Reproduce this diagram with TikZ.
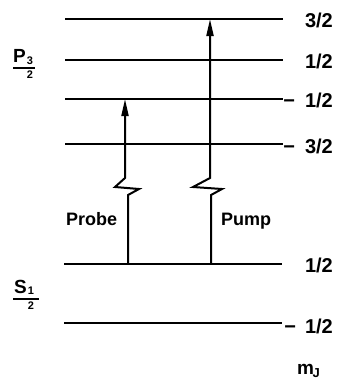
\documentclass[tikz,border=0pt]{standalone}
\usepackage{fontspec}
\setmainfont{Liberation Sans}
\usetikzlibrary{arrows.meta}
\begin{document}
\begin{tikzpicture}[x=1pt,y=-1pt,
  level/.style={line width=2pt},
  beam/.style={line width=2pt, line join=miter, -{Triangle[length=17pt,width=7pt]}},
  mjlab/.style={anchor=base east, font=\fontsize{20}{20}\selectfont\bfseries, inner sep=0pt},
  lab/.style={anchor=base west, font=\fontsize{18}{18}\selectfont\bfseries, inner sep=0pt},
  term/.style={anchor=base west, font=\fontsize{19}{19}\selectfont\bfseries, inner sep=0pt},
  subn/.style={anchor=base, font=\fontsize{11}{11}\selectfont\bfseries, inner sep=0pt},
  bar/.style={line width=1.5pt}]
\useasboundingbox (0,0) rectangle (340,383);
% P_{3/2} levels
\coordinate (p3l) at (65,19);  \coordinate (p3r) at (283,19);
\coordinate (p1l) at (65,60);  \coordinate (p1r) at (283,60);
\coordinate (pm1l) at (65,99); \coordinate (pm1r) at (283,99);
\coordinate (pm3l) at (65,144);\coordinate (pm3r) at (283,144);
% S_{1/2} levels
\coordinate (s1l) at (64,264); \coordinate (s1r) at (282,264);
\coordinate (sm1l) at (64,323);\coordinate (sm1r) at (282,323);
\foreach \a/\b in {p3l/p3r,p1l/p1r,pm1l/pm1r,pm3l/pm3r,s1l/s1r,sm1l/sm1r}
  \draw[level] (\a) -- (\b);
% m_J labels
\node[mjlab] (l1) at (333,27) {3/2};
\node[mjlab] (l2) at (333,68) {1/2};
\node[mjlab] (l3) at (333,107) {−\hspace{10pt}1/2};
\node[mjlab] (l4) at (333,153) {−\hspace{10pt}3/2};
\node[mjlab] (l5) at (333,272) {1/2};
\node[mjlab] (l6) at (333,333) {−\hspace{9pt}1/2};
\node[anchor=base west, font=\fontsize{19}{19}\selectfont\bfseries, inner sep=0pt] (mj) at (297,374) {m\kern-1.5pt\raisebox{-3pt}{\fontsize{13}{13}\selectfont J}};
% term labels
\node[term] (P) at (13,62) {P};
\node[subn] (P3) at (30,64) {3};
\draw[bar] (13,68) -- (35,68);
\node[subn] (P2) at (30,78) {2};
\node[term] (S) at (14,293) {S};
\node[subn] (S1) at (31,294) {1};
\draw[bar] (13,299) -- (39,299);
\node[subn] (S2) at (31,309) {2};
% beams
\coordinate (pbB) at (128,264); \coordinate (pbT) at (125,99);
\coordinate (puB) at (211,264); \coordinate (puT) at (210,19);
\draw[beam] (pbB) -- ++(0,-69) -- ++(11,-6) -- ++(-24,-2) -- ++(10,-9) -- (pbT);
\draw[beam] (puB) -- ++(0,-69) -- ++(11,-6) -- ++(-29,-2) -- ++(17,-9) -- (puT);
\node[lab] (probe) at (66,225) {Probe};
\node[lab] (pump) at (221,225) {Pump};
\end{tikzpicture}
\end{document}
